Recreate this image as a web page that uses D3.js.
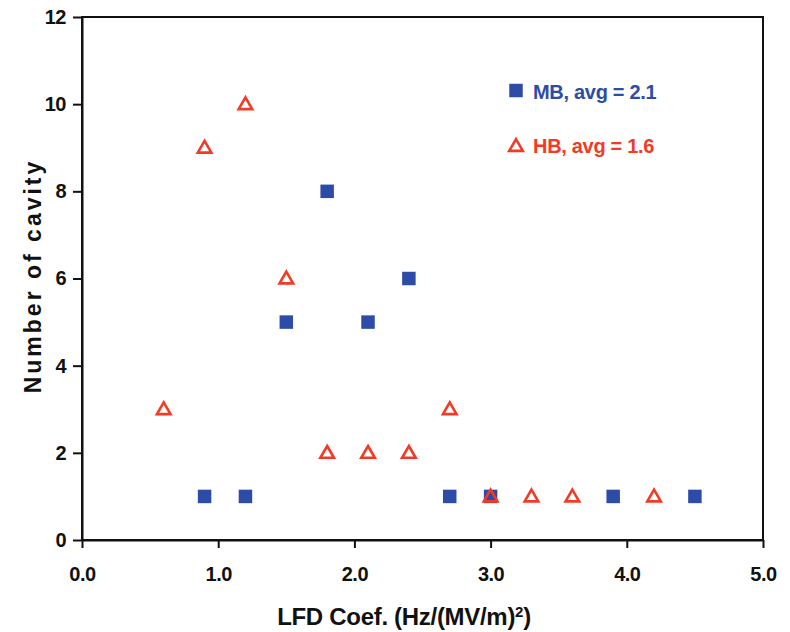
<!DOCTYPE html>
<html><head><meta charset="utf-8">
<script src="https://cdn.jsdelivr.net/npm/d3@7"></script>
<style>body{margin:0;background:#fff;} text{font-family:"Liberation Sans",Arial,sans-serif;font-weight:bold;}</style>
</head><body>
<svg id="c" width="790" height="632"></svg>
<script>
const mbX = [0.9, 1.2, 1.5, 1.8, 2.1, 2.4, 2.7, 3.0, 3.9, 4.5];
const mbY = [1, 1, 5, 8, 5, 6, 1, 1, 1, 1];
const hbX = [0.6, 0.9, 1.2, 1.5, 1.8, 2.1, 2.4, 2.7, 3.0, 3.3, 3.6, 4.2];
const hbY = [3, 9, 10, 6, 2, 2, 2, 3, 1, 1, 1, 1];
const xTicks = [0, 1, 2, 3, 4, 5];
const yTicks = [0, 2, 4, 6, 8, 10, 12];
const legendLabels = ["MB, avg = 2.1", "HB, avg = 1.6"];
const blue = "#2d4ca8", red = "#f23a26";

const svg = d3.select("#c");
const m = {l: 82, r: 790 - 763, t: 17, b: 632 - 540};
const W = 790 - m.l - m.r, H = 632 - m.t - m.b;
const x = d3.scaleLinear().domain([0, 5]).range([m.l, m.l + W]);
const y = d3.scaleLinear().domain([0, 12]).range([m.t + H, m.t]);

// frame
svg.append("rect").attr("x", m.l).attr("y", m.t).attr("width", W).attr("height", H)
  .attr("fill", "none").attr("stroke", "#111").attr("stroke-width", 2);

const xa = svg.append("g").attr("transform", `translate(0,${m.t + H})`)
  .call(d3.axisBottom(x).tickValues(xTicks).tickFormat(d3.format(".1f")).tickSize(8).tickSizeOuter(0));
const ya = svg.append("g").attr("transform", `translate(${m.l},0)`)
  .call(d3.axisLeft(y).tickValues(yTicks).tickFormat(d3.format("d")).tickSize(9).tickSizeOuter(0));
[xa, ya].forEach(a => {
  a.select(".domain").attr("stroke", "#111").attr("stroke-width", 2);
  a.selectAll(".tick line").attr("stroke", "#111").attr("stroke-width", 2);
  a.selectAll(".tick text").attr("fill", "#111").style("font-size", "20px")
    .style("font-family", "'Liberation Sans', Arial, sans-serif").style("font-weight", "bold")
    .style("letter-spacing", "-0.5px");
});
xa.selectAll(".tick text").attr("y", 41).attr("dy", 0);
ya.selectAll(".tick text").attr("x", -16);

// MB squares
const sq = d3.symbol().type(d3.symbolSquare).size(182);
svg.append("g").selectAll("path").data(mbX.map((v, i) => [v, mbY[i]])).join("path")
  .attr("d", sq).attr("fill", blue)
  .attr("transform", d => `translate(${x(d[0])},${y(d[1])})`);

// HB triangles
const tri = d3.symbol().type(d3.symbolTriangle).size(80);
svg.append("g").selectAll("path").data(hbX.map((v, i) => [v, hbY[i]])).join("path")
  .attr("d", tri).attr("fill", "none").attr("stroke", red).attr("stroke-width", 2.6)
  .attr("transform", d => `translate(${x(d[0])},${y(d[1]) + 1})`);

// legend
svg.append("path").attr("d", sq).attr("fill", blue).attr("transform", "translate(516,90.5)");
svg.append("text").attr("x", 533).attr("y", 99).attr("fill", blue).style("font-size", "20px")
  .style("letter-spacing", "-0.3px").text(legendLabels[0]);
svg.append("path").attr("d", tri).attr("fill", "none").attr("stroke", red).attr("stroke-width", 2.6)
  .attr("transform", "translate(516,147)");
svg.append("text").attr("x", 533).attr("y", 153).attr("fill", red).style("font-size", "20px")
  .style("letter-spacing", "-0.3px").text(legendLabels[1]);

// axis titles
const xt = svg.append("text").attr("x", 404).attr("y", 625).attr("text-anchor", "middle")
  .attr("fill", "#111").style("font-size", "24px").style("letter-spacing", "-0.3px");
xt.append("tspan").text("LFD Coef. (Hz/(MV/m)");
xt.append("tspan").attr("dy", -8).style("font-size", "15px").text("2");
xt.append("tspan").attr("dy", 8).text(")");

svg.append("text").attr("transform", "translate(41,276) rotate(-90)").attr("text-anchor", "middle")
  .attr("fill", "#111").style("font-size", "23px").style("letter-spacing", "3px").text("Number of cavity");
</script>
</body></html>
